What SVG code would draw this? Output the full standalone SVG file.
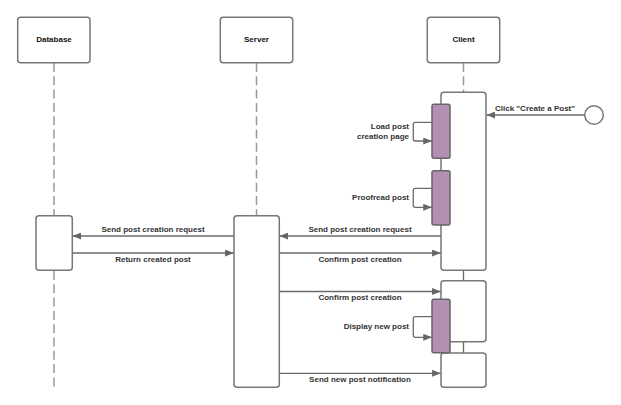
<svg xmlns="http://www.w3.org/2000/svg" width="621" height="405" viewBox="0 0 621 405">
<defs>
<style>
.box{fill:#fff;stroke:#777;stroke-width:1.5}
.act{fill:#fff;stroke:#777;stroke-width:1.5}
.pur{fill:#b38fb4;stroke:#666;stroke-width:1.5}
.life{stroke:#999;stroke-width:1.5;stroke-dasharray:9 4.3;fill:none}
.msg{stroke:#6b6b6b;stroke-width:1.3;fill:none}
.ttl{font-family:"Liberation Sans",Arial,sans-serif;font-weight:bold;font-size:8px;fill:#111;text-anchor:middle}
.lbl{font-family:"Liberation Sans",Arial,sans-serif;font-weight:bold;font-size:8px;fill:#333;text-anchor:middle}
.lblr{font-family:"Liberation Sans",Arial,sans-serif;font-weight:bold;font-size:8px;fill:#333;text-anchor:end}
</style>
<marker id="ah" viewBox="0 0 10 8" refX="10" refY="4" markerWidth="9" markerHeight="7" markerUnits="userSpaceOnUse" orient="auto">
<path d="M0,0 L10,4 L0,8 Z" fill="#666"/>
</marker>
</defs>
<rect width="621" height="405" fill="#fff"/>
<g id="lifelines">
<line class="life" x1="54" y1="63" x2="54" y2="216"/>
<line class="life" x1="54" y1="271" x2="54" y2="388"/>
<line class="life" x1="256.5" y1="63" x2="256.5" y2="216"/>
<line class="life" x1="463.5" y1="63" x2="463.5" y2="92"/>
</g>
<g id="database">
<rect class="box" x="17.7" y="17.3" width="72.3" height="45.4" rx="3"/>
<text class="ttl" x="54" y="42">Database</text>
</g>
<g id="server">
<rect class="box" x="220.3" y="17.3" width="72.4" height="45.4" rx="3"/>
<text class="ttl" x="256.5" y="42">Server</text>
</g>
<g id="client">
<rect class="box" x="427.3" y="17.3" width="72.4" height="45.4" rx="3"/>
<text class="ttl" x="463.5" y="42">Client</text>
</g>
<g id="bar-connectors">
<line class="msg" x1="463.5" y1="270" x2="463.5" y2="281"/>
<line class="msg" x1="463.5" y1="341.7" x2="463.5" y2="353"/>
</g>
<g id="database-activation">
<rect class="act" x="36" y="215.7" width="36.3" height="54.6" rx="3"/>
</g>
<g id="server-activation">
<rect class="act" x="234" y="215.7" width="45.3" height="171.6" rx="3"/>
</g>
<g id="client-activation-1">
<rect class="act" x="441" y="92.3" width="45" height="178" rx="3"/>
</g>
<g id="client-activation-2">
<rect class="act" x="441" y="280.7" width="45" height="61" rx="3"/>
</g>
<g id="client-activation-3">
<rect class="act" x="441" y="353" width="45" height="34.3" rx="3"/>
</g>
<g id="load-page">
<rect class="pur" x="432" y="104.3" width="18" height="54" rx="2"/>
</g>
<g id="proofread">
<rect class="pur" x="432" y="170.7" width="18" height="54.3" rx="2"/>
</g>
<g id="display">
<rect class="pur" x="432" y="299.3" width="18" height="53.4" rx="2"/>
</g>
<g id="user">
<circle cx="594" cy="115" r="9.3" fill="#fff" stroke="#777" stroke-width="1.5"/>
</g>
<g id="connectors">
<line class="msg" x1="584.5" y1="115" x2="486.5" y2="115" marker-end="url(#ah)"/>
<path class="msg" d="M432,122.3 H415.3 Q413.3,122.3 413.3,124.3 V139 Q413.3,141 415.3,141 H432" marker-end="url(#ah)"/>
<path class="msg" d="M432,188.3 H415.3 Q413.3,188.3 413.3,190.3 V205.3 Q413.3,207.3 415.3,207.3 H432" marker-end="url(#ah)"/>
<path class="msg" d="M432,316.7 H415.3 Q413.3,316.7 413.3,318.7 V335.3 Q413.3,337.3 415.3,337.3 H432" marker-end="url(#ah)"/>
<line class="msg" x1="441" y1="236" x2="279.5" y2="236" marker-end="url(#ah)"/>
<line class="msg" x1="234" y1="236" x2="72.5" y2="236" marker-end="url(#ah)"/>
<line class="msg" x1="72.3" y1="253" x2="233.8" y2="253" marker-end="url(#ah)"/>
<line class="msg" x1="279.3" y1="253" x2="440.8" y2="253" marker-end="url(#ah)"/>
<line class="msg" x1="279.3" y1="291.5" x2="440.8" y2="291.5" marker-end="url(#ah)"/>
<line class="msg" x1="279.3" y1="373.3" x2="440.8" y2="373.3" marker-end="url(#ah)"/>
</g>
<g id="labels">
<text class="lbl" x="535" y="111">Click "Create a Post"</text>
<text class="lblr" x="409" y="128.7">Load post</text>
<text class="lblr" x="409" y="138.7">creation page</text>
<text class="lblr" x="409" y="200">Proofread post</text>
<text class="lblr" x="409" y="329">Display new post</text>
<text class="lbl" x="153" y="231.5">Send post creation request</text>
<text class="lbl" x="153" y="262">Return created post</text>
<text class="lbl" x="360" y="231.5">Send post creation request</text>
<text class="lbl" x="360" y="262">Confirm post creation</text>
<text class="lbl" x="360" y="300">Confirm post creation</text>
<text class="lbl" x="360" y="381.5">Send new post notification</text>
</g>
</svg>
